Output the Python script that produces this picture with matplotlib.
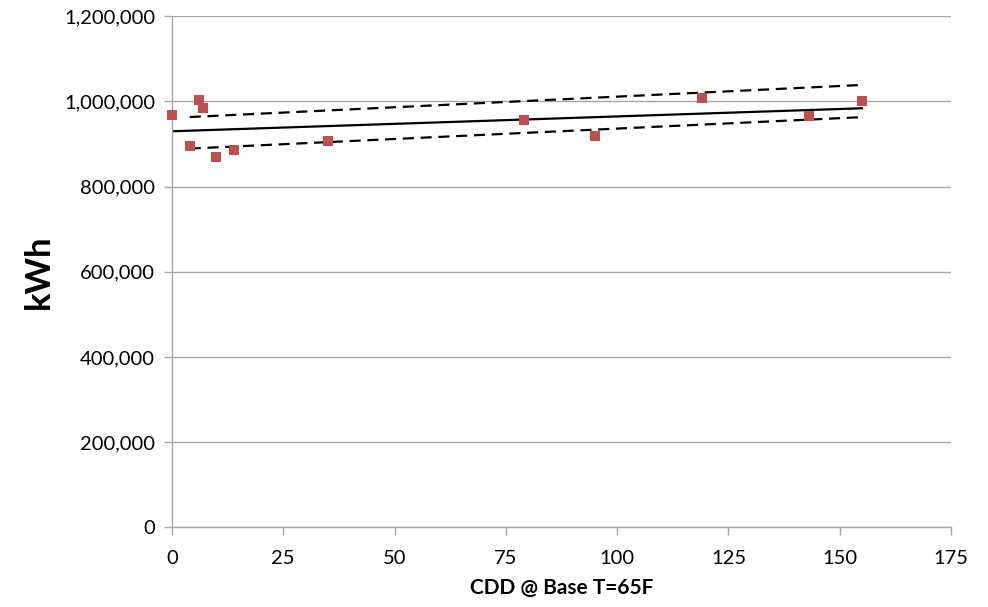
import matplotlib
matplotlib.use("Agg")
import matplotlib.pyplot as plt
from matplotlib.ticker import FuncFormatter

plt.rcParams['font.family'] = ['Lato', 'DejaVu Sans']

cdd = [0, 4, 6, 7, 10, 14, 35, 79, 95, 119, 143, 155]
kwh = [967000, 894000, 1002000, 985000, 870000, 885000, 906000, 955000, 918000, 1008000, 966000, 1000000]

fit_x = [0, 155]
fit_y = [929600, 983600]
upper_x = [4, 154.4]
upper_y = [963000, 1038000]
lower_x = [4, 154.4]
lower_y = [889000, 962500]

xticks = [0, 25, 50, 75, 100, 125, 150, 175]
yticks = [0, 200000, 400000, 600000, 800000, 1000000, 1200000]

fig = plt.figure(figsize=(9.88, 6.07), dpi=100)
ax = fig.add_axes([0.174, 0.131, 0.7886, 0.8426])

for y in yticks:
    ax.axhline(y, color='#a6a6a6', lw=1.0, zorder=0)

ax.plot(fit_x, fit_y, color='black', lw=1.6, zorder=2)
ax.plot(upper_x, upper_y, color='black', lw=1.6, ls=(0, (5, 3)), zorder=2)
ax.plot(lower_x, lower_y, color='black', lw=1.6, ls=(0, (5, 3)), zorder=2)
ax.scatter(cdd, kwh, marker='s', s=62, color='#C0504D', zorder=3, linewidths=0, clip_on=False)

ax.set_xlim(0, 175)
ax.set_ylim(0, 1200000)
ax.set_xticks(xticks)
ax.set_yticks(yticks)
ax.yaxis.set_major_formatter(FuncFormatter(lambda v, p: f"{int(v):,}"))

for s in ['top', 'right']:
    ax.spines[s].set_visible(False)
for s in ['left', 'bottom']:
    ax.spines[s].set_color('#a6a6a6')
    ax.spines[s].set_linewidth(1.0)
ax.tick_params(axis='both', colors='#a6a6a6', labelcolor='black', labelsize=14.5,
               length=6, width=1.0, direction='out')
ax.tick_params(axis='x', pad=10)
ax.tick_params(axis='y', pad=6)

ax.set_xlabel('CDD @ Base T=65F', fontsize=15, fontweight='bold', labelpad=8)
ax.set_ylabel('kWh', fontsize=25, fontweight='bold', labelpad=7)

fig.savefig('out.png', dpi=100)
